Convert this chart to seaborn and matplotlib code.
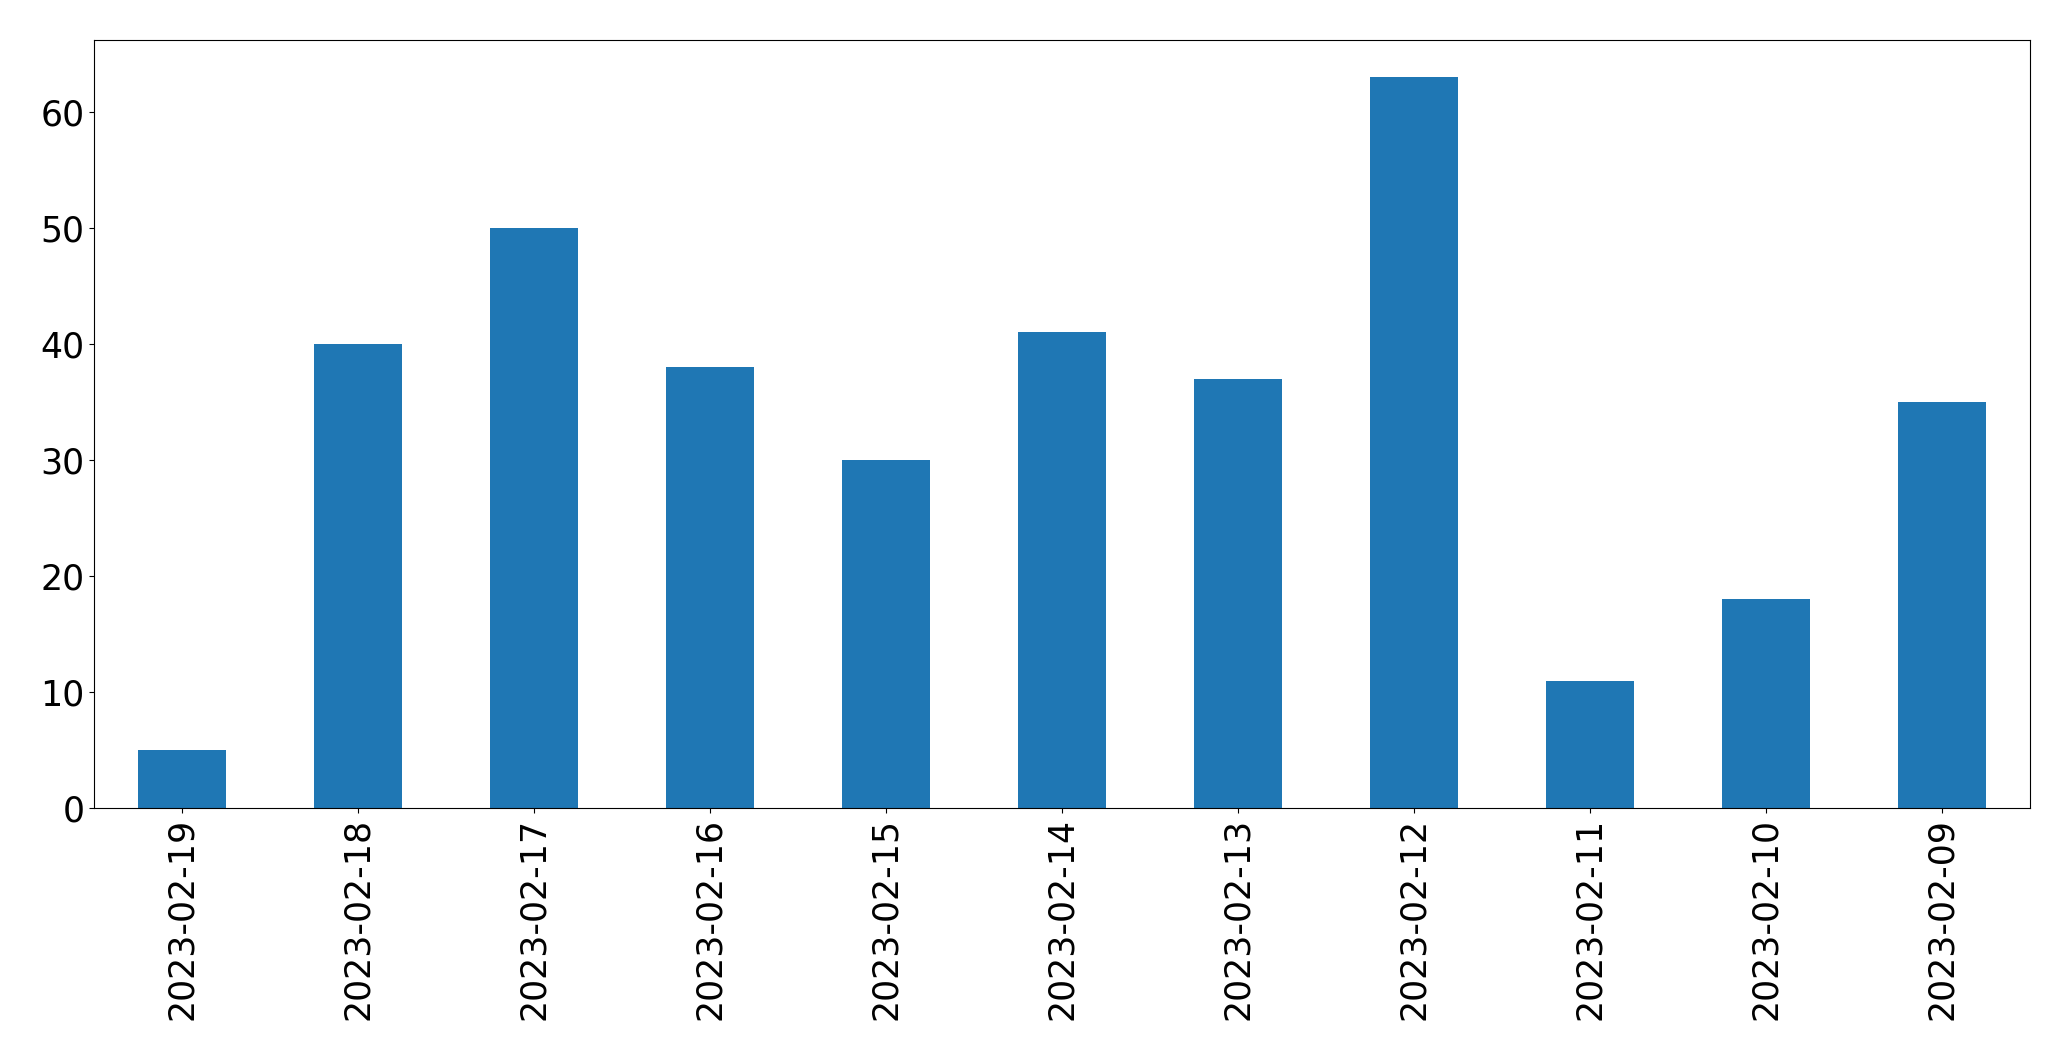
import matplotlib
matplotlib.use("Agg")
import matplotlib.pyplot as plt
import seaborn as sns
import pandas as pd

dates = ["2023-02-19", "2023-02-18", "2023-02-17", "2023-02-16", "2023-02-15",
         "2023-02-14", "2023-02-13", "2023-02-12", "2023-02-11", "2023-02-10",
         "2023-02-09"]
counts = [5, 40, 50, 38, 30, 41, 37, 63, 11, 18, 35]

df = pd.DataFrame({"date": dates, "count": counts})

fig = plt.figure(figsize=(20.71, 10.61), dpi=100)
ax = fig.add_axes([0.0454, 0.238, 0.9346, 0.724])
sns.barplot(data=df, x="date", y="count", order=dates, color="#1f77b4",
            saturation=1, width=0.5, ax=ax, linewidth=0)
ax.set_xlim(-0.5, len(dates) - 0.5)
ax.set_ylim(0, max(counts) * 1.05)
ax.set_xlabel("")
ax.set_ylabel("")
for s in ax.spines.values():
    s.set_color("black")
ax.tick_params(axis="both", labelsize=25)
ax.tick_params(axis="x", labelrotation=90)
fig.savefig("out.png", dpi=100)
